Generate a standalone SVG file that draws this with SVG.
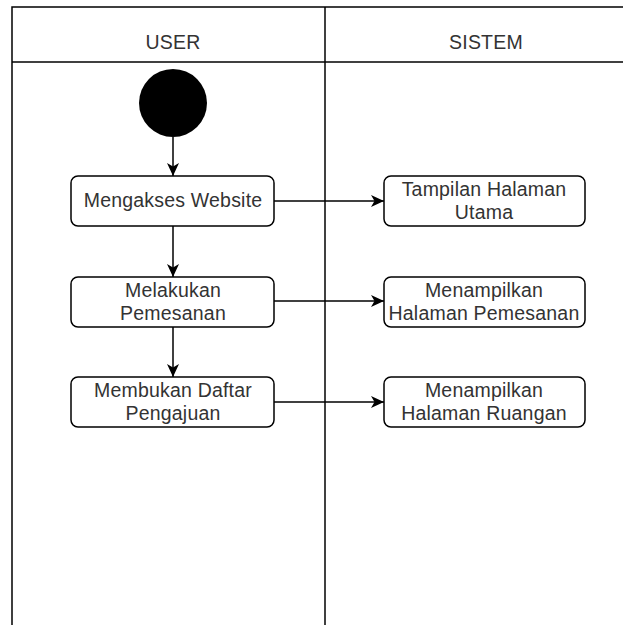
<svg xmlns="http://www.w3.org/2000/svg" width="623" height="625" viewBox="0 0 623 625">
<style>
.lane{fill:none;stroke:#000;stroke-width:1.5}
.box{fill:#fff;stroke:#000;stroke-width:1.5}
.t{font-family:"Liberation Sans",Arial,sans-serif;font-size:19.5px;letter-spacing:0.2px;fill:#333;text-anchor:middle}
.c{fill:none;stroke:#000;stroke-width:1.5}
</style>
<defs>
<marker id="ah" markerWidth="14" markerHeight="13" viewBox="0 0 14 13" refX="13" refY="6.5" orient="auto" markerUnits="userSpaceOnUse">
<path d="M0,0.5 L13,6.5 L0,12.5 L3.5,6.5 Z" fill="#000"/>
</marker>
</defs>
<rect width="623" height="625" fill="#fff"/>
<g id="lanes">
<rect class="lane" x="12" y="7" width="640" height="640"/>
<line class="lane" x1="12" y1="62" x2="623" y2="62"/>
<line class="lane" x1="325" y1="7" x2="325" y2="625"/>
<text class="t" x="173" y="49">USER</text>
<text class="t" x="486" y="49">SISTEM</text>
</g>
<g id="connectors">
<line class="c" x1="173" y1="137" x2="173" y2="176" marker-end="url(#ah)"/>
<line class="c" x1="173" y1="226" x2="173" y2="277" marker-end="url(#ah)"/>
<line class="c" x1="173" y1="327" x2="173" y2="377" marker-end="url(#ah)"/>
<line class="c" x1="274" y1="201" x2="384" y2="201" marker-end="url(#ah)"/>
<line class="c" x1="274" y1="301" x2="384" y2="301" marker-end="url(#ah)"/>
<line class="c" x1="274" y1="402" x2="384" y2="402" marker-end="url(#ah)"/>
</g>
<g id="start"><circle cx="173" cy="103" r="34" fill="#000"/></g>
<g id="n1"><rect class="box" x="71" y="176" width="203" height="50" rx="7"/><text class="t" x="173" y="207">Mengakses Website</text></g>
<g id="n2"><rect class="box" x="71" y="277" width="203" height="50" rx="7"/><text class="t" x="173" y="297">Melakukan</text><text class="t" x="173" y="320">Pemesanan</text></g>
<g id="n3"><rect class="box" x="71" y="377" width="203" height="50" rx="7"/><text class="t" x="173" y="397">Membukan Daftar</text><text class="t" x="173" y="420">Pengajuan</text></g>
<g id="s1"><rect class="box" x="384" y="176" width="201" height="50" rx="7"/><text class="t" x="484" y="196">Tampilan Halaman</text><text class="t" x="484" y="219">Utama</text></g>
<g id="s2"><rect class="box" x="384" y="277" width="201" height="50" rx="7"/><text class="t" x="484" y="297">Menampilkan</text><text class="t" x="484" y="320">Halaman Pemesanan</text></g>
<g id="s3"><rect class="box" x="384" y="377" width="201" height="50" rx="7"/><text class="t" x="484" y="397">Menampilkan</text><text class="t" x="484" y="420">Halaman Ruangan</text></g>
</svg>
